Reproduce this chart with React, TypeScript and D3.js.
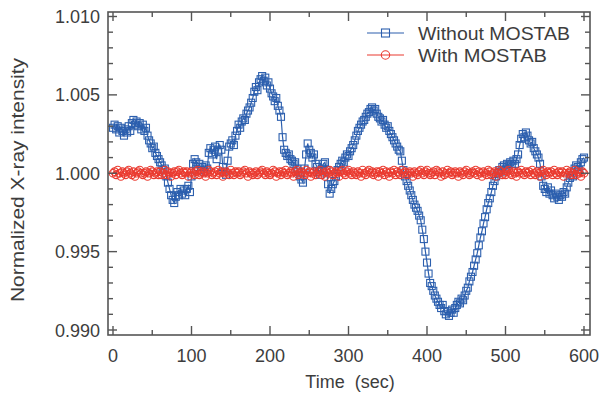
import React from "react";
import * as d3 from "d3";

const sampleStep = 2; // seconds between samples
const withoutMostab = [
  1.0029, 1.0031, 1.0028, 1.003, 1.0026, 1.0029, 1.0027, 1.0024, 1.0028, 1.0026,
  1.003, 1.0027, 1.0032, 1.0034, 1.0031, 1.0033, 1.003, 1.0032, 1.0028, 1.0031,
  1.0027, 1.0029, 1.0024, 1.0021, 1.0019, 1.0016, 1.0017, 1.0013, 1.0011, 1.0009,
  1.0007, 1.0005, 1.0002, 1.0003, 0.9998, 0.9994, 0.999, 0.9986, 0.9983, 0.9981,
  0.9985, 0.9988, 0.9986, 0.999, 0.9987, 0.9989, 0.9986, 0.999, 0.9992, 0.9988,
  0.9998, 1.0006, 1.0009, 1.0007, 1.0004, 1.0006, 1.0002, 1.0004, 1.0001, 1.0005,
  1.0003, 1.0013, 1.0016, 1.0012, 1.0015, 1.0017, 1.0009, 1.0014, 1.0018, 1.0015,
  1.0004, 1.0001, 0.9999, 1.0008, 1.0017, 1.0019, 1.0021, 1.0018, 1.0024, 1.0027,
  1.0031, 1.0029, 1.0033, 1.0035, 1.0034, 1.0038, 1.004, 1.0042, 1.0045, 1.0048,
  1.0052, 1.0055, 1.0053, 1.0058, 1.006, 1.0062, 1.0059, 1.0061, 1.0056, 1.0058,
  1.0054, 1.0051, 1.0049, 1.0046, 1.0048, 1.0043, 1.004, 1.0036, 1.0023, 1.0015,
  1.0013, 1.0011, 1.0012, 1.0009, 1.0008, 1.0006, 1.0007, 1.0003, 1.0001, 0.9998,
  0.9996, 0.9994, 1.0003, 1.0012, 1.0019, 1.0015, 1.0013, 1.001, 1.0012, 1.0006,
  1.0004, 1.0001, 0.9999, 1.0003, 1.0006, 1.0007, 1.0002, 0.9993, 0.9987, 0.999,
  0.9993, 0.9995, 0.9998, 1.0002, 1.0004, 1.0006, 1.0008, 1.0007, 1.001, 1.0012,
  1.0011, 1.0014, 1.0016, 1.0018, 1.0021, 1.0024, 1.0027, 1.0029, 1.0031, 1.0033,
  1.0034, 1.0036, 1.0038, 1.0039, 1.0041, 1.0042, 1.004, 1.0041, 1.0038, 1.0036,
  1.0035, 1.0033, 1.0034, 1.0031, 1.0029, 1.003, 1.0027, 1.0025, 1.0023, 1.0021,
  1.0019, 1.0017, 1.0015, 1.0014, 1.0008, 1.0002, 0.9998, 0.9995, 0.9992, 0.9989,
  0.9986, 0.9983, 0.998, 0.9978, 0.9976, 0.9973, 0.997, 0.9964, 0.9958, 0.995,
  0.9943, 0.9936, 0.993, 0.9928, 0.9925, 0.9922, 0.992, 0.9918, 0.9916, 0.9914,
  0.9916, 0.9912, 0.991, 0.9912, 0.9909, 0.9911, 0.9913, 0.9911, 0.9914, 0.9916,
  0.9918, 0.9917, 0.992, 0.9919, 0.9922, 0.9925, 0.9927, 0.9931, 0.9934, 0.9937,
  0.9941, 0.9945, 0.9949, 0.9954, 0.9959, 0.9963, 0.9968, 0.9972, 0.9977, 0.9981,
  0.9984, 0.9988, 0.9992, 0.9995, 0.9998, 1.0, 1.0002, 1.0001, 1.0004, 1.0005,
  1.0003, 1.0006, 1.0005, 1.0007, 1.0006, 1.0008, 1.0006, 1.0009, 1.0012, 1.0018,
  1.0022, 1.0025, 1.0023, 1.0026, 1.0024, 1.0021, 1.0019, 1.002, 1.0016, 1.0014,
  1.0012, 1.001, 1.0006, 0.9998, 0.9992, 0.999, 0.9988, 0.9991, 0.9987, 0.9989,
  0.9986, 0.9984, 0.9987, 0.9985, 0.9983, 0.9986, 0.9985, 0.9988, 0.9987, 0.9991,
  0.9994, 0.9997, 0.9999, 0.9998, 1.0003, 1.0005, 1.0004, 1.0002, 1.0007, 1.0009,
  1.001,
];
const withMostab = [
  1.0, 1.0001, 0.9999, 1.0002, 1.0, 0.9998, 1.0001, 1.0, 0.9999, 1.0001,
  1.0002, 1.0, 0.9999, 1.0001, 0.9998, 1.0, 1.0001, 1.0002, 1.0, 0.9999,
  1.0, 1.0001, 0.9998, 1.0, 1.0002, 1.0001, 0.9999, 1.0, 1.0001, 0.9999,
  1.0001, 0.9999, 1.0, 1.0002, 0.9999, 1.0001, 1.0, 0.9998, 1.0, 1.0001,
  0.9999, 1.0001, 1.0002, 1.0, 0.9999, 1.0001, 1.0, 1.0001, 0.9998, 1.0,
  1.0001, 1.0, 0.9999, 1.0001, 1.0002, 0.9999, 1.0, 1.0001, 1.0, 0.9998,
  1.0, 1.0002, 1.0001, 0.9999, 1.0, 1.0001, 0.9999, 1.0002, 1.0, 1.0001,
  0.9998, 1.0, 1.0001, 1.0, 0.9999, 1.0002, 1.0, 0.9999, 1.0001, 1.0,
  1.0001, 0.9999, 1.0, 1.0001, 1.0002, 1.0, 0.9998, 1.0001, 1.0, 0.9999,
  1.0, 1.0001, 0.9999, 1.0, 1.0001, 1.0002, 1.0, 0.9999, 1.0001, 1.0,
  0.9999, 1.0, 1.0002, 1.0001, 0.9998, 1.0, 1.0001, 0.9999, 1.0001, 1.0,
  1.0002, 0.9999, 1.0, 1.0001, 1.0, 0.9998, 1.0001, 1.0002, 0.9999, 1.0,
  1.0001, 1.0, 0.9999, 1.0002, 1.0, 1.0001, 0.9998, 1.0, 1.0001, 0.9999,
  1.0, 1.0001, 1.0002, 0.9999, 1.0, 0.9998, 1.0001, 1.0, 1.0002, 1.0001,
  0.9999, 1.0, 1.0001, 1.0, 0.9998, 1.0001, 1.0002, 1.0, 0.9999, 1.0001,
  1.0002, 1.0, 0.9999, 1.0001, 1.0, 0.9999, 1.0001, 1.0, 0.9998, 1.0002,
  1.0, 0.9999, 1.0001, 1.0002, 1.0, 1.0001, 0.9999, 1.0, 1.0001, 0.9998,
  1.0001, 1.0, 1.0002, 0.9999, 1.0001, 1.0, 0.9998, 1.0001, 1.0, 1.0002,
  0.9999, 1.0001, 1.0, 0.9999, 1.0002, 1.0, 1.0001, 0.9999, 1.0, 1.0001,
  1.0, 0.9998, 1.0001, 1.0, 0.9999, 1.0001, 1.0002, 1.0, 0.9999, 1.0001,
  1.0002, 1.0, 0.9999, 1.0, 1.0001, 0.9999, 1.0002, 1.0001, 1.0, 0.9998,
  1.0001, 0.9999, 1.0, 1.0002, 1.0, 1.0001, 0.9999, 1.0, 1.0001, 1.0,
  0.9998, 1.0001, 1.0, 0.9999, 1.0001, 1.0002, 1.0, 0.9999, 1.0, 1.0001,
  1.0, 1.0002, 0.9999, 1.0001, 1.0, 0.9998, 1.0001, 1.0, 0.9999, 1.0002,
  1.0001, 0.9999, 1.0, 1.0001, 0.9998, 1.0, 1.0002, 1.0001, 0.9999, 1.0,
  0.9999, 1.0001, 1.0002, 1.0, 0.9999, 1.0001, 1.0, 0.9998, 1.0001, 1.0,
  1.0002, 1.0, 0.9999, 1.0001, 1.0, 1.0001, 0.9999, 1.0002, 1.0, 0.9999,
  1.0001, 1.0, 0.9998, 1.0001, 1.0002, 1.0, 0.9999, 1.0001, 1.0, 1.0001,
  0.9999, 1.0002, 1.0, 0.9999, 1.0001, 1.0, 1.0001, 0.9998, 1.0, 1.0002,
  1.0, 1.0001, 0.9999, 1.0, 1.0002, 0.9999, 1.0001, 1.0, 0.9998, 1.0001,
  1.0,
];
const xMajorTicks = [0, 100, 200, 300, 400, 500, 600];
const xMinorTicks = [50, 150, 250, 350, 450, 550];
const yMajorTicks = [0.99, 0.995, 1.0, 1.005, 1.01];
const yMinorTicks = [
  0.991, 0.992, 0.993, 0.994, 0.996, 0.997, 0.998, 0.999,
  1.001, 1.002, 1.003, 1.004, 1.006, 1.007, 1.008, 1.009,
];
const seriesNames = ["Without MOSTAB", "With MOSTAB"];
const xTitle = "Time  (sec)";
const yTitle = "Normalized X-ray intensity";

const BLUE = "#2c5fae";
const RED = "#ea3b30";
const AXIS = "#555";
const TEXT = "#3d3d3d";
const FONT = "'Liberation Sans', Arial, Helvetica, sans-serif";

export default function App() {
  const W = 602, H = 394;
  const frame = { left: 108, right: 590, top: 12, bottom: 335 };
  const x = d3.scaleLinear().domain([0, 600]).range([113, 584]);
  const y = d3.scaleLinear().domain([0.99, 1.01]).range([330, 16.5]);

  const blue = withoutMostab.map((v, i) => ({ t: i * sampleStep, v }));
  const red = withMostab.map((v, i) => ({ t: i * sampleStep, v }));
  const line = d3
    .line<{ t: number; v: number }>()
    .x((d) => x(d.t))
    .y((d) => y(d.v));

  const MAJ = 9, MIN = 5;
  const sq = 7;

  return (
    <svg
      width={W}
      height={H}
      style={{ position: "absolute", left: 0, top: 0, display: "block", background: "#fff" }}
      fontFamily={FONT}
    >
      {/* data */}
      <path d={line(blue) || ""} fill="none" stroke={BLUE} strokeWidth={1.2} />
      {blue.map((d, i) => (
        <rect
          key={"b" + i}
          x={x(d.t) - sq / 2}
          y={y(d.v) - sq / 2}
          width={sq}
          height={sq}
          fill="none"
          stroke={BLUE}
          strokeWidth={1.1}
        />
      ))}
      <path d={line(red) || ""} fill="none" stroke={RED} strokeWidth={1.2} />
      {red.map((d, i) => (
        <circle
          key={"r" + i}
          cx={x(d.t)}
          cy={y(d.v)}
          r={3.8}
          fill="none"
          stroke={RED}
          strokeWidth={1.1}
        />
      ))}

      {/* frame */}
      <rect
        x={frame.left}
        y={frame.top}
        width={frame.right - frame.left}
        height={frame.bottom - frame.top}
        fill="none"
        stroke={AXIS}
        strokeWidth={1.6}
      />
      {xMajorTicks.map((t) => (
        <g key={"xm" + t} stroke={AXIS} strokeWidth={1.4}>
          <line x1={x(t)} x2={x(t)} y1={frame.bottom} y2={frame.bottom - MAJ} />
          <line x1={x(t)} x2={x(t)} y1={frame.top} y2={frame.top + MAJ} />
        </g>
      ))}
      {xMinorTicks.map((t) => (
        <g key={"xn" + t} stroke={AXIS} strokeWidth={1.4}>
          <line x1={x(t)} x2={x(t)} y1={frame.bottom} y2={frame.bottom - MIN} />
          <line x1={x(t)} x2={x(t)} y1={frame.top} y2={frame.top + MIN} />
        </g>
      ))}
      {yMajorTicks.map((v) => (
        <g key={"ym" + v} stroke={AXIS} strokeWidth={1.4}>
          <line x1={frame.left} x2={frame.left + MAJ} y1={y(v)} y2={y(v)} />
          <line x1={frame.right} x2={frame.right - MAJ} y1={y(v)} y2={y(v)} />
        </g>
      ))}
      {yMinorTicks.map((v) => (
        <g key={"yn" + v} stroke={AXIS} strokeWidth={1.4}>
          <line x1={frame.left} x2={frame.left + MIN} y1={y(v)} y2={y(v)} />
          <line x1={frame.right} x2={frame.right - MIN} y1={y(v)} y2={y(v)} />
        </g>
      ))}

      {xMajorTicks.map((t) => (
        <text key={"xl" + t} x={x(t)} y={362} textAnchor="middle" fontSize={18} fill={TEXT}>
          {t}
        </text>
      ))}
      {yMajorTicks.map((v) => (
        <text key={"yl" + v} x={100} y={y(v) + 6.5} textAnchor="end" fontSize={18} fill={TEXT}>
          {d3.format(".3f")(v)}
        </text>
      ))}

      <text x={350} y={388} textAnchor="middle" fontSize={18} fill={TEXT} style={{ whiteSpace: "pre" }}>
        {xTitle}
      </text>
      <text
        transform={`translate(24,180) rotate(-90)`}
        textAnchor="middle"
        fontSize={18}
        fill={TEXT}
        textLength={244}
        lengthAdjust="spacingAndGlyphs"
      >
        {yTitle}
      </text>

      {[0, 1].map((i) => {
        const ly = 33 + i * 22;
        const c = i === 0 ? BLUE : RED;
        return (
          <g key={"lg" + i}>
            <line x1={367} x2={404} y1={ly} y2={ly} stroke={c} strokeWidth={1.2} />
            {i === 0 ? (
              <rect x={385.5 - 4} y={ly - 4} width={8} height={8} fill="none" stroke={c} strokeWidth={1.1} />
            ) : (
              <circle cx={385.5} cy={ly} r={4.2} fill="none" stroke={c} strokeWidth={1.1} />
            )}
            <text
              x={418}
              y={ly + 6.5}
              fontSize={18}
              fill={TEXT}
              textLength={i === 0 ? 152 : 129}
              lengthAdjust="spacingAndGlyphs"
            >
              {seriesNames[i]}
            </text>
          </g>
        );
      })}
    </svg>
  );
}
